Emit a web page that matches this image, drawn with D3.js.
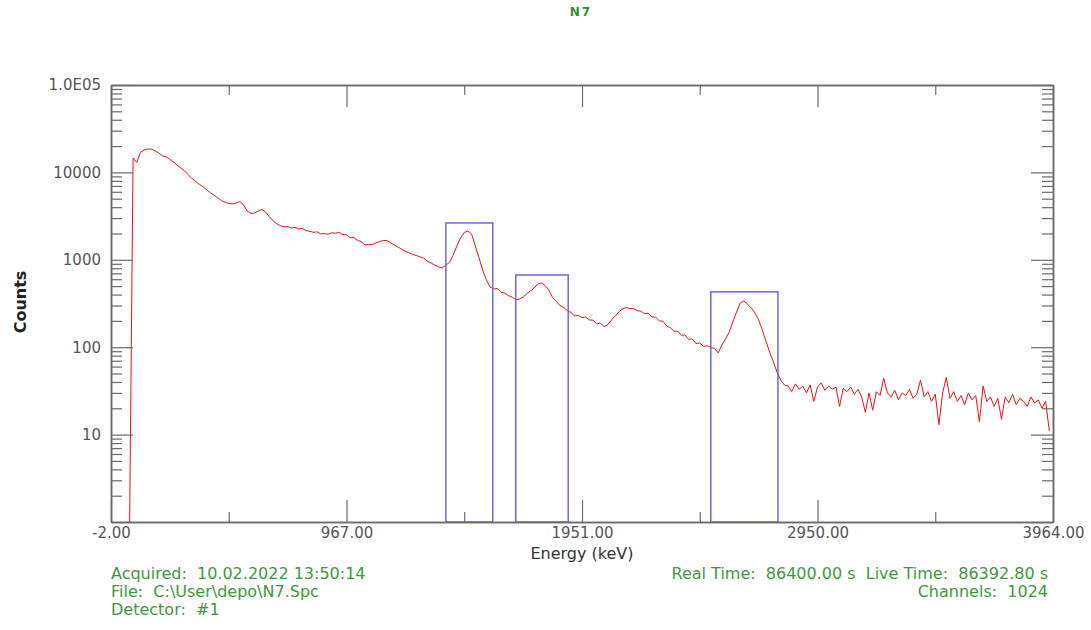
<!DOCTYPE html>
<html lang="en">
<head>
<meta charset="utf-8">
<title>N7 spectrum</title>
<script src="https://d3js.org/d3.v7.min.js"></script>
<style>
  body { margin: 0; background: #fff; }
  svg text { font-family: "DejaVu Sans", sans-serif; white-space: pre; }
</style>
</head>
<body>
<script>

// spectrum: one value every 4 channels (1024 channels)
var channelStep = 4;
var counts = [
  0, 0, 0, 0, 0, 0.5, 14600, 13000, 17000, 18000,
  18500, 18500, 17600, 16700, 15400, 15100, 14100, 13100, 12100, 11200,
  10400, 9400, 8500, 7900, 7300, 6860, 6340, 5870, 5480, 5120,
  4760, 4550, 4420, 4350, 4460, 4630, 4260, 3620, 3390, 3430,
  3620, 3760, 3520, 3130, 2800, 2600, 2460, 2380, 2400, 2310,
  2350, 2250, 2290, 2150, 2120, 2060, 2090, 1980, 2000, 1960,
  2040, 2010, 2060, 1950, 1930, 1790, 1800, 1670, 1610, 1480,
  1500, 1490, 1560, 1620, 1660, 1660, 1560, 1480, 1400, 1320,
  1250, 1200, 1150, 1120, 1080, 1040, 960, 918, 870, 827,
  805, 870, 935, 1130, 1440, 1780, 2050, 2140, 1970, 1440,
  1060, 764, 590, 490, 463, 470, 425, 415, 390, 375,
  347, 356, 375, 410, 440, 476, 530, 543, 505, 451,
  370, 335, 300, 286, 262, 250, 228, 232, 218, 221,
  205, 204, 184, 190, 172, 181, 205, 227, 253, 274,
  285, 276, 279, 262, 258, 241, 245, 222, 220, 200,
  198, 175, 168, 152, 153, 137, 138, 123, 124, 110,
  112, 102, 104, 99, 97, 86, 106, 124, 149, 195,
  253, 320, 338, 311, 281, 246, 205, 157, 117, 88,
  68, 52, 42, 37,
  36, 31, 38, 33, 36, 30, 37, 24, 35, 39,
  32, 36, 33, 35, 21, 34, 31, 35, 29, 33,
  27, 18, 30, 19, 31, 28, 44, 30, 27, 32,
  25, 30, 28, 33, 26, 29, 42, 27, 31, 24,
  29, 13, 30, 45, 26, 31, 24, 28, 22, 30,
  25, 28, 14, 36, 24, 27, 21, 26, 15, 27,
  23, 29, 22, 26, 24, 21, 27, 23, 25, 20,
  24, 11
];

// x axis: channel positions and their energy labels
var xMajorChannels = [0, 256, 512, 768, 1024];
var xMajorLabels = ["-2.00", "967.00", "1951.00", "2950.00", "3964.00"];
var xMinorChannels = [128, 384, 640, 896];

// y axis
var yMajor = [1, 10, 100, 1000, 10000, 100000];
var yLabels = ["", "10", "100", "1000", "10000", "1.0E05"];

// regions of interest (channels, box top in counts)
var roiStart = [364, 440, 652];
var roiEnd = [415, 497, 725];
var roiTop = [2640, 670, 430];

var title = "N7";
var infoLeft = ["Acquired:  10.02.2022 13:50:14", "File:  C:\\User\\depo\\N7.Spc", "Detector:  #1"];
var infoRight = ["Real Time:  86400.00 s  Live Time:  86392.80 s", "Channels:  1024"];

var W = 1091, H = 630;
var mLeft = 111, mRight = 1053, mTop = 85, mBottom = 522;

var svg = d3.select("body").append("svg")
  .attr("width", W)
  .attr("height", H);

var x = d3.scaleLinear().domain([0, 1024]).range([mLeft, mRight]);
var y = d3.scaleLog().domain([1, 100000]).range([mBottom, mTop]);

var yMinor = [];
yMajor.slice(0, -1).forEach(function(d) {
  for (var k = 2; k <= 9; k++) yMinor.push(d * k);
});

svg.append("defs").append("clipPath").attr("id", "plot")
  .append("rect")
  .attr("x", mLeft).attr("y", mTop)
  .attr("width", mRight - mLeft).attr("height", mBottom - mTop);

// spectrum line
var line = d3.line()
  .defined(function(d) { return d > 0; })
  .x(function(d, i) { return x(i * channelStep); })
  .y(function(d) { return y(d); });

svg.append("path")
  .datum(counts)
  .attr("clip-path", "url(#plot)")
  .attr("d", line)
  .attr("fill", "none")
  .attr("stroke", "#f01010")
  .attr("stroke-width", 1);

// ROI boxes
svg.selectAll("rect.roi")
  .data(roiStart)
  .enter()
  .append("rect")
  .attr("class", "roi")
  .attr("x", function(d) { return x(d); })
  .attr("y", function(d, i) { return y(roiTop[i]); })
  .attr("width", function(d, i) { return x(roiEnd[i]) - x(d); })
  .attr("height", function(d, i) { return mBottom - y(roiTop[i]); })
  .attr("fill", "none")
  .attr("stroke", "#6a6ade")
  .attr("stroke-width", 1.5);

function styleAxis(g) {
  g.selectAll("path.domain").attr("stroke", "#6a6a6a").attr("stroke-width", 1.5);
  g.selectAll("line").attr("stroke", "#6a6a6a").attr("stroke-width", 1.2);
  g.selectAll("text")
    .attr("fill", "#555")
    .style("font-size", "15px");
}

// bottom
svg.append("g").attr("transform", "translate(0," + mBottom + ")")
  .call(d3.axisBottom(x).tickValues(xMajorChannels).tickSize(-22).tickSizeOuter(0)
    .tickPadding(5)
    .tickFormat(function(d, i) { return xMajorLabels[i]; }))
  .call(styleAxis);
svg.append("g").attr("transform", "translate(0," + mBottom + ")")
  .call(d3.axisBottom(x).tickValues(xMinorChannels).tickSize(-10).tickSizeOuter(0).tickFormat(""))
  .call(styleAxis);

// top
svg.append("g").attr("transform", "translate(0," + mTop + ")")
  .call(d3.axisTop(x).tickValues(xMajorChannels).tickSize(-22).tickSizeOuter(0).tickFormat(""))
  .call(styleAxis);
svg.append("g").attr("transform", "translate(0," + mTop + ")")
  .call(d3.axisTop(x).tickValues(xMinorChannels).tickSize(-10).tickSizeOuter(0).tickFormat(""))
  .call(styleAxis);

// left
svg.append("g").attr("transform", "translate(" + mLeft + ",0)")
  .call(d3.axisLeft(y).tickValues(yMajor).tickSize(-22).tickSizeOuter(0).tickPadding(10)
    .tickFormat(function(d, i) { return yLabels[i]; }))
  .call(styleAxis);
svg.append("g").attr("transform", "translate(" + mLeft + ",0)")
  .call(d3.axisLeft(y).tickValues(yMinor).tickSize(-11).tickSizeOuter(0).tickFormat(""))
  .call(styleAxis);

// right
svg.append("g").attr("transform", "translate(" + mRight + ",0)")
  .call(d3.axisRight(y).tickValues(yMajor).tickSize(-22).tickSizeOuter(0).tickFormat(""))
  .call(styleAxis);
svg.append("g").attr("transform", "translate(" + mRight + ",0)")
  .call(d3.axisRight(y).tickValues(yMinor).tickSize(-11).tickSizeOuter(0).tickFormat(""))
  .call(styleAxis);

// titles
svg.append("text")
  .attr("x", 581).attr("y", 16)
  .attr("text-anchor", "middle")
  .attr("fill", "#2f8f2f")
  .style("font-size", "12px")
  .style("font-weight", "bold")
  .style("letter-spacing", "2px")
  .text(title);

svg.append("text")
  .attr("transform", "translate(26,302) rotate(-90)")
  .attr("text-anchor", "middle")
  .attr("fill", "#222")
  .style("font-size", "16px")
  .style("font-weight", "bold")
  .text("Counts");

svg.append("text")
  .attr("x", 582).attr("y", 559)
  .attr("text-anchor", "middle")
  .attr("fill", "#333")
  .style("font-size", "16px")
  .text("Energy (keV)");

// info lines
svg.selectAll("text.infoL")
  .data(infoLeft)
  .enter()
  .append("text")
  .attr("class", "infoL")
  .attr("x", 111)
  .attr("y", function(d, i) { return 579 + i * 18; })
  .attr("fill", "#3c9a3c")
  .style("font-size", "16px")
  .text(function(d) { return d; });

svg.selectAll("text.infoR")
  .data(infoRight)
  .enter()
  .append("text")
  .attr("class", "infoR")
  .attr("x", 1048)
  .attr("y", function(d, i) { return 579 + i * 18; })
  .attr("text-anchor", "end")
  .attr("fill", "#3c9a3c")
  .style("font-size", "16px")
  .text(function(d) { return d; });

</script>
</body>
</html>
